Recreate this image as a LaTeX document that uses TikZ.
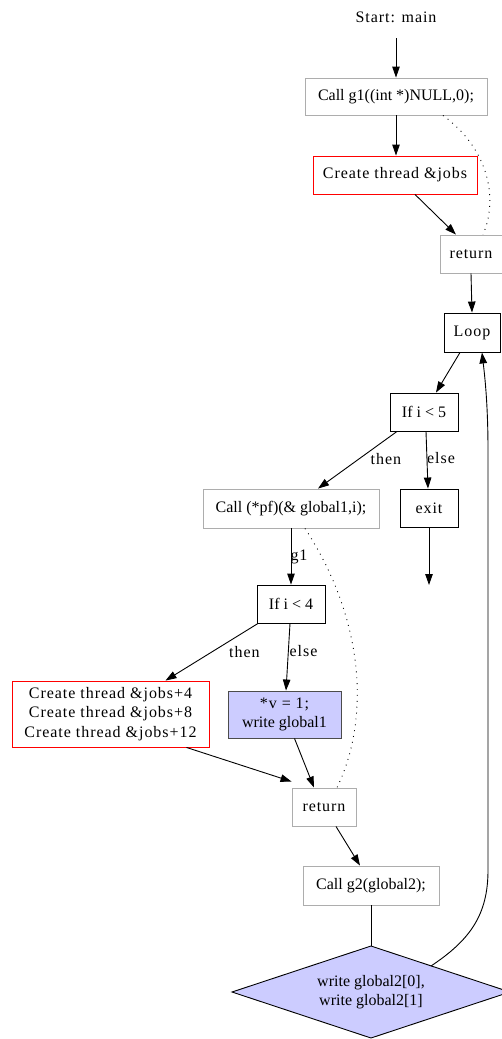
\documentclass[tikz,border=0pt]{standalone}
\usepackage{fontspec}
\setmainfont{Liberation Serif}
\newfontfamily\spacedrm[LetterSpace=6]{Liberation Serif}
\usetikzlibrary{arrows.meta,positioning}
\begin{document}
\begin{tikzpicture}[x=1pt,y=-1pt,
  every node/.style={font=\fontsize{16}{19.5}\selectfont, inner sep=0pt, align=center},
  gbox/.style={draw=black!32, line width=0.9pt},
  rbox/.style={draw=red, line width=0.9pt},
  kbox/.style={draw=black, line width=0.9pt},
  bbox/.style={draw=black!70, fill=blue!20, line width=0.9pt},
  arr/.style={line width=0.9pt, -{Triangle[length=11pt,width=7.5pt]}},
  ln/.style={line width=0.9pt},
  dot/.style={line width=0.9pt, dash pattern=on 0.9pt off 5pt},
  lbl/.style={font=\spacedrm\fontsize{16}{19.5}\selectfont}]
\useasboundingbox (0,0) rectangle (501,1039);
% nodes
\node[lbl, minimum height=42pt] (start) at (396,17) {Start: main};
\node[gbox, minimum width=182pt, minimum height=37pt] (g1) at (396,96.5) {Call g1((int *)NULL,0);};
\node[rbox, minimum width=164pt, minimum height=38pt, font=\spacedrm\fontsize{16}{19.5}\selectfont] (cj) at (395,175) {Create thread \&jobs};
\node[gbox, minimum width=62pt, minimum height=38pt, font=\spacedrm\fontsize{16}{19.5}\selectfont] (ret1) at (471,254) {return};
\node[kbox, minimum width=56pt, minimum height=39pt, font=\spacedrm\fontsize{16}{19.5}\selectfont] (loop) at (472,332.5) {Loop};
\node[kbox, minimum width=68pt, minimum height=38pt] (if5) at (424,412) {If i < 5};
\node[gbox, minimum width=176pt, minimum height=39pt] (cpf) at (291,508.5) {Call (*pf)(\& global1,i);};
\node[kbox, minimum width=58pt, minimum height=38pt, font=\spacedrm\fontsize{16}{19.5}\selectfont] (exit) at (429,508) {exit};
\coordinate (exend) at (429,585);
\node[kbox, minimum width=68pt, minimum height=38pt] (if4) at (291,604) {If i < 4};
\node[rbox, minimum width=197pt, minimum height=66pt, font=\spacedrm\fontsize{16}{19.5}\selectfont] (ct3) at (110.5,714) {Create thread \&jobs+4\\Create thread \&jobs+8\\Create thread \&jobs+12};
\node[bbox, minimum width=113pt, minimum height=47pt] (v) at (284.5,714.5) {{\spacedrm *v = 1;}\\write global1};
\node[gbox, minimum width=64pt, minimum height=38pt, font=\spacedrm\fontsize{16}{19.5}\selectfont] (ret2) at (324,807) {return};
\node[gbox, minimum width=136pt, minimum height=39pt] (g2) at (371,885.5) {Call g2(global2);};
\filldraw[draw=black, fill=blue!20, line width=0.9pt] (371,946) -- (510,992) -- (371,1038) -- (232,992) -- cycle;
\node (dia) at (371,992) {write global2[0],\\write global2[1]};
\coordinate (diatop) at (371,946);
\coordinate (diaur) at (431,966);
% edges
\draw[arr] (start) -- (g1);
\draw[arr] (g1.south) -- (g1.south |- cj.north);
\draw[arr] ([xshift=20pt]cj.south) -- ([xshift=-15pt]ret1.north);
\draw[dot] ([xshift=47pt]g1.south) .. controls (490,150) and (498,200) .. ([xshift=12pt]ret1.north);
\draw[arr] (ret1.south) -- (loop.north);
\draw[arr] ([xshift=-12pt]loop.south) -- ([xshift=12pt]if5.north);
\draw[arr] ([xshift=-27pt]if5.south) -- node[lbl, pos=0.45, xshift=24.5pt, yshift=-1.5pt] {then} ([xshift=27pt]cpf.north);
\draw[arr] ([xshift=2pt]if5.south) -- node[lbl, pos=0.5, xshift=14pt, yshift=1.5pt] {else} ([xshift=-1pt]exit.north);
\draw[arr] (exit.south) -- (exend);
\draw[arr] (cpf.south) -- node[lbl, pos=0.5, xshift=8pt] {g1} (if4.north);
\draw[dot] ([xshift=14pt]cpf.south) .. controls (365,620) and (370,720) .. ([xshift=13pt]ret2.north);
\draw[arr] ([xshift=-33pt]if4.south) -- node[lbl, pos=0.45, xshift=28pt, yshift=-2.4pt] {then} ([xshift=55pt]ct3.north);
\draw[arr] ([xshift=-1pt]if4.south) -- node[lbl, pos=0.5, xshift=15.5pt, yshift=5.5pt] {else} ([xshift=1.5pt]v.north);
\draw[arr] ([xshift=76pt]ct3.south) -- ([yshift=6pt]ret2.north west);
\draw[arr] ([xshift=10pt]v.south) -- ([xshift=-10pt]ret2.north);
\draw[arr] ([xshift=12pt]ret2.south) -- ([xshift=-11pt]g2.north);
\draw[ln] (g2.south) -- (diatop);
\draw[arr] (diaur) .. controls (470,940) and (488,915) .. (488,870) -- (488,450) .. controls (488,400) and (484,370) .. ([xshift=10pt]loop.south);
\end{tikzpicture}
\end{document}
